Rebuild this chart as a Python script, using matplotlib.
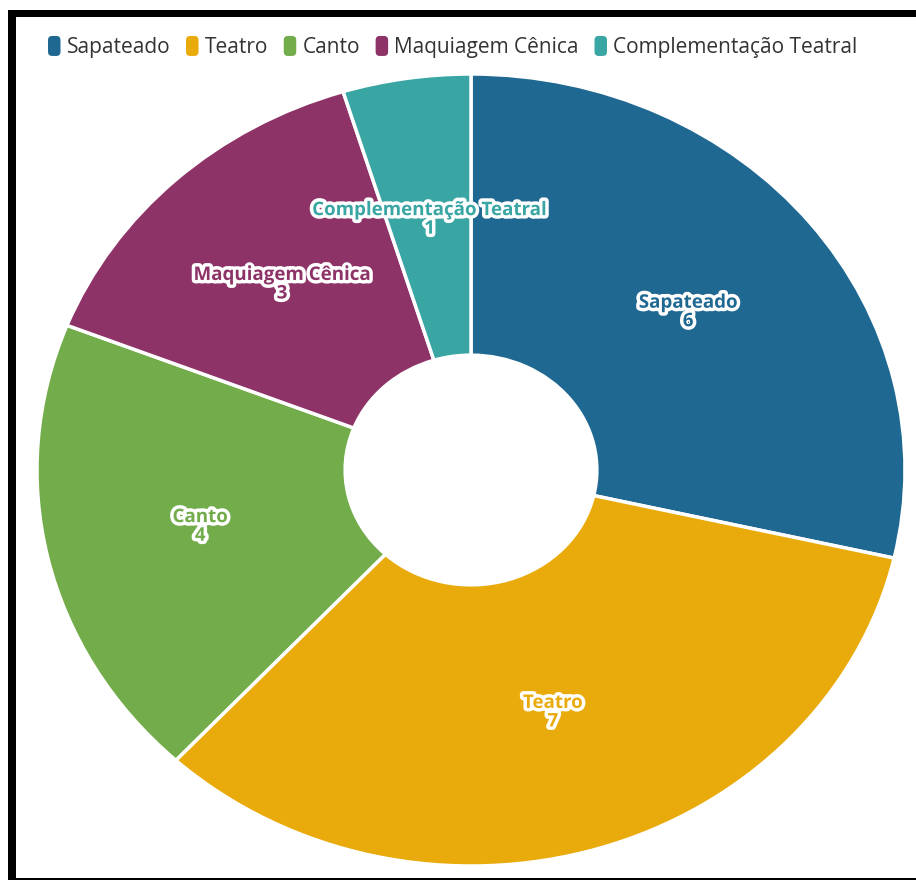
import matplotlib.pyplot as plt
import matplotlib.patheffects as pe
from matplotlib.patches import Rectangle, FancyBboxPatch
from matplotlib.legend_handler import HandlerPatch
import numpy as np

# Data
categories = ["Sapateado", "Teatro", "Canto", "Maquiagem Cênica", "Complementação Teatral"]
values = [6, 7, 4, 3, 1]
colors = ["#1f6892", "#e9ab0b", "#73ac4b", "#8e3368", "#3aa6a4"]

plt.rcParams['font.family'] = ['Open Sans', 'DejaVu Sans']

W, H = 916, 880
fig = plt.figure(figsize=(W / 100, H / 100), dpi=100)

# pie area in pixels (screenshot is slightly stretched horizontally)
cx, cy, rx, ry = 471, 470, 434, 396
ax = fig.add_axes([(cx - rx) / W, (H - cy - ry) / H, 2 * rx / W, 2 * ry / H])

wedges, _ = ax.pie(values, colors=colors, startangle=90, counterclock=False,
                   radius=1.0,
                   wedgeprops=dict(width=0.71, edgecolor="white", linewidth=2.5))
ax.set_aspect('auto')
ax.set_xlim(-1, 1)
ax.set_ylim(-1, 1)
ax.axis('off')

# slice labels
total = sum(values)
start = 90.0
for name, v, c in zip(categories, values, colors):
    span = 360.0 * v / total
    mid = np.deg2rad(start - span / 2)
    start -= span
    r = 0.64
    ax.text(r * np.cos(mid), r * np.sin(mid), f"{name}\n{v}",
            ha='center', va='center', fontsize=13.5, fontweight='bold',
            color=c, linespacing=0.9,
            path_effects=[pe.withStroke(linewidth=5, foreground="white")])


# rounded legend markers
class RoundBox(HandlerPatch):
    def create_artists(self, legend, orig_handle, xdescent, ydescent,
                       width, height, fontsize, trans):
        p = FancyBboxPatch((-xdescent + 1.5, -ydescent + 1.5), width - 3, height - 3,
                           boxstyle="round,pad=1.5,rounding_size=3",
                           facecolor=orig_handle.get_facecolor(), edgecolor='none',
                           transform=trans)
        return [p]


handles = [Rectangle((0, 0), 1, 1, facecolor=c, edgecolor='none') for c in colors]
fig.legend(handles, categories, loc='center left', ncol=5, frameon=False,
           bbox_to_anchor=(48 / W, 1 - 47 / H), fontsize=15, labelcolor='#333333',
           handlelength=0.6, handleheight=1.1, handletextpad=0.3,
           columnspacing=0.75, borderaxespad=0, borderpad=0,
           handler_map={Rectangle: RoundBox()})

# black frame around the screenshot
for (x0, y0, x1, y1) in [(8, 10, W, 17), (8, 10, 16, H), (8, 878, W, H)]:
    fig.patches.append(Rectangle((x0 / W, 1 - y1 / H), (x1 - x0) / W, (y1 - y0) / H,
                                 transform=fig.transFigure, facecolor='black',
                                 edgecolor='none', zorder=10))

fig.savefig("out.png", dpi=100)
